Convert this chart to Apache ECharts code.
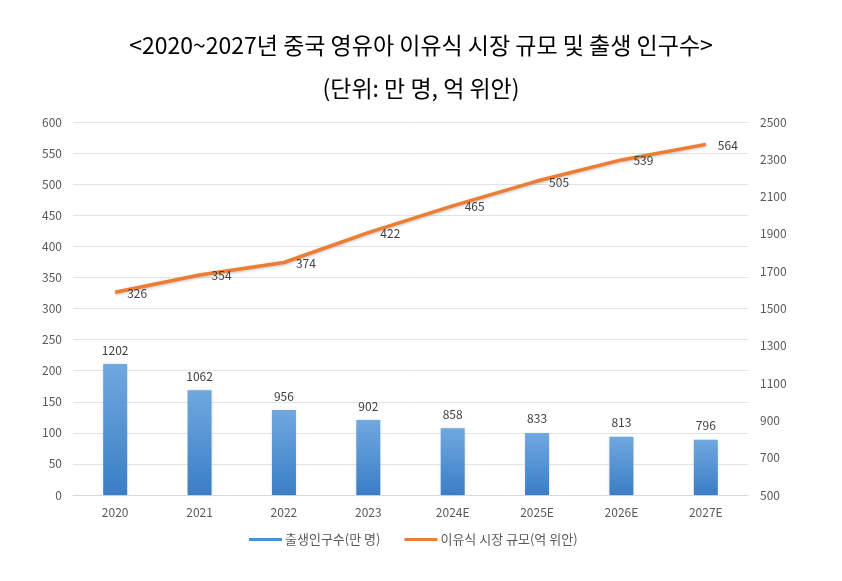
<!DOCTYPE html>
<html><head><meta charset="utf-8">
<script src="https://cdn.jsdelivr.net/npm/echarts@6/dist/echarts.min.js"></script>
<style>html,body{margin:0;padding:0;background:#fff}#c{width:842px;height:581px}</style>
</head><body><div id="c"></div>
<script>
const categories = ['2020','2021','2022','2023','2024E','2025E','2026E','2027E'];
const births = [1202, 1062, 956, 902, 858, 833, 813, 796];
const market = [326, 354, 374, 422, 465, 505, 539, 564];
const titleText = '<2020~2027년 중국 영유아 이유식 시장 규모 및 출생 인구수>';
const subtitleText = '(단위: 만 명, 억 위안)';
const seriesNames = ['출생인구수(만 명)', '이유식 시장 규모(억 위안)'];

const chart = echarts.init(document.getElementById('c'));
const font = '"Noto Sans CJK KR", "Noto Sans", sans-serif';
chart.setOption({
  animation: false,
  backgroundColor: '#fff',
  title: [
    {text: titleText, left: 'center', top: 29, textStyle: {fontFamily: font, fontSize: 23, fontWeight: 'normal', color: '#000'}},
    {text: subtitleText, left: 'center', top: 72, textStyle: {fontFamily: font, fontSize: 23, fontWeight: 'normal', color: '#000'}}
  ],
  legend: {
    bottom: 30, left: 244, itemWidth: 33, itemHeight: 3, itemGap: 24,
    icon: 'rect',
    textStyle: {fontFamily: font, fontSize: 13, color: '#595959', padding: [0,0,0,-2]},
    data: [{name: seriesNames[0], itemStyle: {color: '#4e8fd3'}}, {name: seriesNames[1], itemStyle: {color: '#ED7D31', opacity: 1}}]
  },
  grid: {left: 73, right: 94, top: 122, bottom: 86},
  xAxis: {
    type: 'category', data: categories,
    axisLine: {lineStyle: {color: '#d9d9d9'}}, axisTick: {show: false},
    axisLabel: {color: '#595959', fontFamily: font, fontSize: 12, margin: 11}
  },
  yAxis: [
    {type: 'value', min: 0, max: 600, interval: 50, position: 'left',
     axisLine: {show: false}, axisTick: {show: false},
     axisLabel: {color: '#595959', fontFamily: font, fontSize: 12, margin: 11},
     splitLine: {lineStyle: {color: '#e3e3e3'}}},
    {type: 'value', min: 500, max: 2500, interval: 200, position: 'right',
     axisLine: {show: false}, axisTick: {show: false},
     axisLabel: {color: '#595959', fontFamily: font, fontSize: 12, margin: 12, formatter: v => String(v)},
     splitLine: {show: false}}
  ],
  series: [
    {name: seriesNames[0], type: 'bar', yAxisIndex: 1, data: births, barWidth: 24,
     itemStyle: {color: new echarts.graphic.LinearGradient(0,0,0,1,[{offset:0,color:'#70a8df'},{offset:1,color:'#3a7ec6'}]),
       shadowColor: 'rgba(0,0,0,0.15)', shadowBlur: 3},
     label: {show: true, position: 'top', distance: 8, color: '#404040', fontFamily: font, fontSize: 12}},
    {name: seriesNames[1], type: 'line', yAxisIndex: 0, data: market, symbol: 'circle', symbolSize: 2, showSymbol: true,
     lineStyle: {color: '#ED7D31', width: 3.5, shadowColor: 'rgba(0,0,0,0.25)', shadowBlur: 3, shadowOffsetY: 1},
     itemStyle: {color: 'rgba(237,125,49,0)', borderWidth: 0},
     label: {show: true, position: 'right', distance: 11, offset: [0, 1], color: '#404040', fontFamily: font, fontSize: 12}}
  ]
});
</script></body></html>
